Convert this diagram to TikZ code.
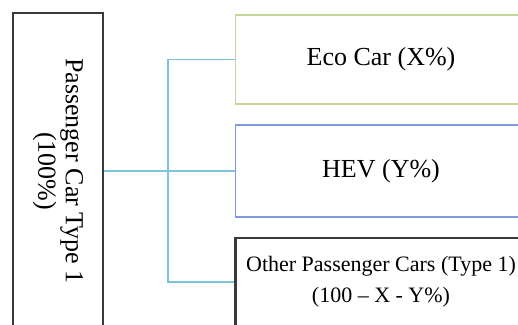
\documentclass[tikz,border=0pt]{standalone}
\usepackage{fontspec}
\setmainfont{Liberation Serif}
\definecolor{ecoc}{HTML}{C5D69B}
\definecolor{hevc}{HTML}{7F9CD6}
\definecolor{connc}{HTML}{7CC3DC}
\definecolor{darkc}{HTML}{3A3A3A}
\begin{document}
\begin{tikzpicture}[x=0.5pt,y=-0.5pt,
  box/.style={draw, rectangle, inner sep=0pt, align=center},
  conn/.style={draw=connc, line width=0.7pt}]
\useasboundingbox (0,0) rectangle (518,325);
\begin{scope}
\clip (0,0) rectangle (518,325);
\node[box, draw=darkc, line width=1.4pt, rotate=-90, minimum width=158pt, minimum height=45pt,
  font=\fontsize{13}{13.8}\selectfont] (pc) at (58,171) {Passenger Car Type 1\\(100\%)};
\node[box, draw=ecoc, line width=0.9pt, minimum width=145.5pt, minimum height=44.5pt,
  font=\fontsize{13}{15}\selectfont] (eco) at (381,59.5) {Eco Car (X\%)};
\node[box, draw=hevc, line width=0.9pt, minimum width=145.5pt, minimum height=46pt,
  font=\fontsize{13}{15}\selectfont] (hev) at (381,171) {HEV (Y\%)};
\node[box, draw=darkc, line width=1.4pt, minimum width=145.5pt, minimum height=44pt,
  font=\fontsize{11}{15.5}\selectfont] (oth) at (381,282) {Other Passenger Cars (Type 1)\\(100 – X - Y\%)};
\coordinate (j) at (168,171);
\draw[conn] (pc.north) -- (hev.west);
\draw[conn] (eco.west) -| (j) |- (oth.west);
\end{scope}
\end{tikzpicture}
\end{document}
